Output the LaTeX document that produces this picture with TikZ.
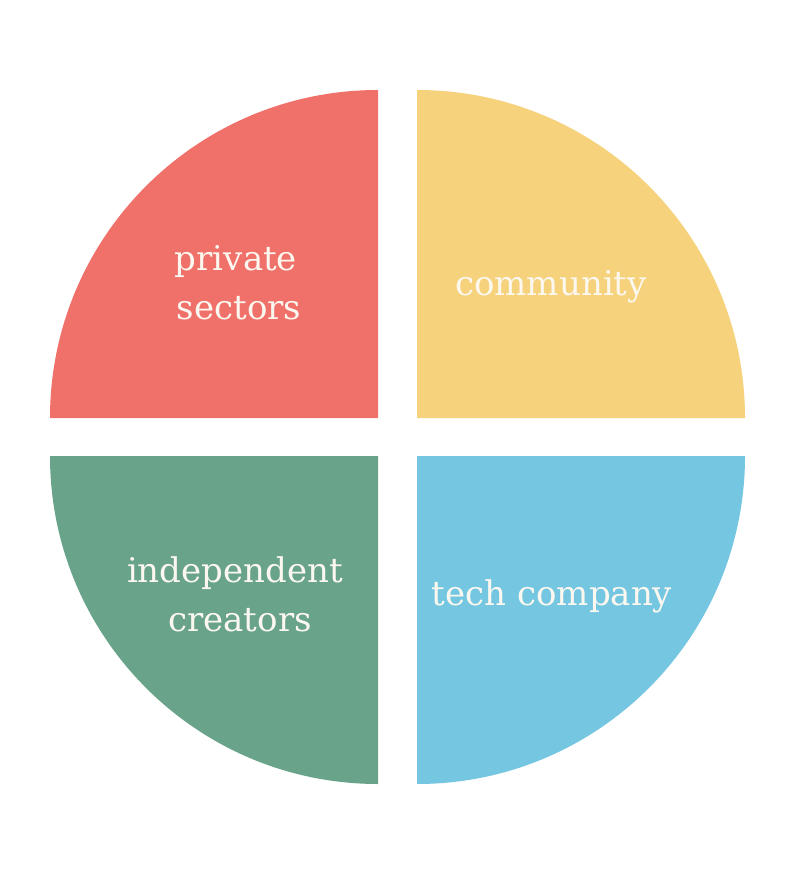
\documentclass[tikz,border=0pt]{standalone}
\usepackage{fontspec}
\setmainfont{DejaVu Serif}
\definecolor{cred}{HTML}{F0706A}
\definecolor{cyellow}{HTML}{F5D27B}
\definecolor{cgreen}{HTML}{69A38A}
\definecolor{cblue}{HTML}{74C6E1}
\definecolor{ctext}{HTML}{FCF8F0}
\begin{document}
\begin{tikzpicture}[x=1pt,y=-1pt,
  lbl/.style={inner sep=0pt,anchor=base,text=ctext,font=\fontsize{34}{48}\selectfont}]
\useasboundingbox[fill=white] (0,0) rectangle (798,882);
% quarters
\fill[cred]    (378,418) -- (50,418)  arc[start angle=180,end angle=270,radius=328] -- cycle;
\fill[cyellow] (417,418) -- (417,90)  arc[start angle=270,end angle=360,radius=328] -- cycle;
\fill[cgreen]  (378,456) -- (50,456)  arc[start angle=180,end angle=90,radius=328] -- cycle;
\fill[cblue]   (417,456) -- (745,456) arc[start angle=0,end angle=90,radius=328] -- cycle;
% labels
\node[lbl] (p1) at (236,271) {private};
\node[lbl] (p2) at (239,319) {sectors};
\node[lbl] (c1) at (551,295) {community};
\node[lbl] (i1) at (235,582) {independent};
\node[lbl] (i2) at (240,631) {creators};
\node[lbl] (t1) at (552,605) {tech company};
\end{tikzpicture}
\end{document}
